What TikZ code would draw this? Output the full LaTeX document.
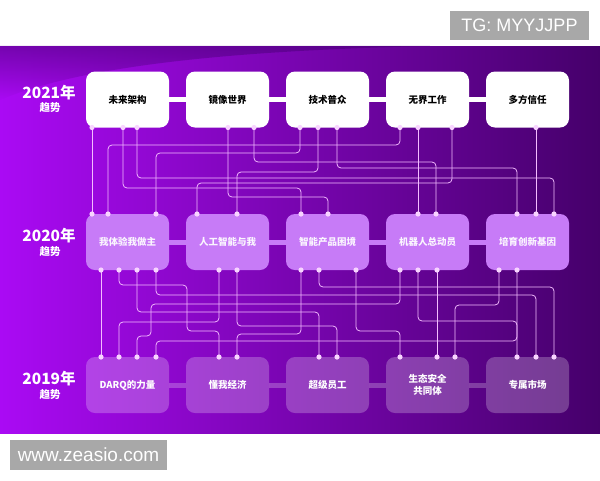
\documentclass[tikz,border=0pt]{standalone}
\usepackage{fontspec}
\setmainfont{Liberation Sans}
\newfontfamily\cjk{Noto Sans CJK SC}
\usetikzlibrary{fadings}
\definecolor{bgL}{HTML}{AA0AF4}
\definecolor{bgM}{HTML}{8A00E4}
\definecolor{bgR}{HTML}{45006A}
\definecolor{bgTop}{HTML}{4A0078}
\definecolor{midc}{HTML}{C77BF7}
\definecolor{wirec}{HTML}{F4BCFF}
\definecolor{dotc}{HTML}{F8D4FF}
\definecolor{markc}{HTML}{A8A8A8}
\newcommand{\link}[3]{\draw[wire] (#1) -- (#1 |- 0,#3) -- (#2 |- 0,#3) -- (#2);}
\begin{document}
\begin{tikzpicture}[x=1pt,y=-1pt,
  wire/.style={draw=wirec,line width=0.75pt,rounded corners=4pt},
  topbox/.style={fill=white,rounded corners=9pt,minimum width=83pt,minimum height=56pt,
    font=\cjk\bfseries\fontsize{9.5}{12}\selectfont,text=black,align=center},
  midbox/.style={topbox,fill=midc,text=white!92!midc},
  lowbox/.style={topbox,fill=white,fill opacity=0.24,text opacity=1,text=white},
  yearlab/.style={text=white,font=\cjk\bfseries\fontsize{15.5}{16}\selectfont,inner sep=0pt},
  sublab/.style={text=white,font=\cjk\bfseries\fontsize{10.5}{11}\selectfont,inner sep=0pt},
  markbox/.style={fill=markc,text=white,inner sep=0pt}]
\useasboundingbox (0,0) rectangle (600,480);
\fill[white] (0,0) rectangle (600,480);
\shade[left color=bgL,middle color=bgM,right color=bgR] (0,46) rectangle (600,433);
\fill[bgTop,opacity=0.55,path fading=south] (0,46) -- (430,46) .. controls (260,50) and (90,62) .. (0,100) -- cycle;

\node[markbox,minimum width=139pt,minimum height=29pt,font=\fontsize{18}{19}\selectfont] (tg) at (519.5,25.5) {TG: MYYJJPP};
\node[markbox,minimum width=157pt,minimum height=30pt,font=\fontsize{19}{20}\selectfont] (web) at (88.5,455) {www.zeasio.com};

\node[yearlab] (y21) at (49,93) {2021年};
\node[sublab] (s21) at (50,108) {趋势};
\node[yearlab] (y20) at (49,236) {2020年};
\node[sublab] (s20) at (50,252) {趋势};
\node[yearlab] (y19) at (49,379) {2019年};
\node[sublab] (s19) at (50,395) {趋势};

\foreach \x in {92,123,137,228,254,300,318,337,400,418,452,536} \coordinate (u\x) at (\x,127.5);
\foreach \x in {92,108,156,197,237,301,328,418,436,517,536,554} \coordinate (v\x) at (\x,214);
\foreach \x in {101,119,137,156,219,237,301,319,356,400,418,437,499,517} \coordinate (w\x) at (\x,270);
\foreach \x in {101,119,137,156,219,237,319,337,400,437,455,517,536,554} \coordinate (z\x) at (\x,357);

\draw[wire] (u92) -- (v92);
\draw[wire] (u418) -- (v418);
\draw[wire] (u536) -- (v536);
\link{u400}{v108}{145}
\link{u300}{v156}{153}
\link{u254}{v436}{162}
\link{u337}{v517}{168}
\link{u318}{v237}{172}
\link{u137}{v554}{178}
\link{u452}{v197}{183}
\link{u123}{v301}{188}
\link{u228}{v328}{197}

\draw[wire] (w101) -- (z101);
\draw[wire] (w437) -- (z437);
\draw[wire] (w119) -- (119,285) -- (187,285) -- (187,331) -- (219,331) -- (z219);
\draw[wire] (w400) -- (400,304) -- (151,304) -- (151,336) -- (137,336) -- (z137);
\link{w137}{z319}{312}
\link{w156}{z536}{295}
\link{w219}{z119}{322}
\link{w237}{z337}{326}
\link{w301}{z237}{334}
\link{w319}{z554}{287}
\link{w356}{z400}{331}
\link{w418}{z517}{321}
\link{w499}{z455}{305}
\link{w517}{z156}{341}

\node[topbox] (t1) at (127.5,99.5) {未来架构};
\node[topbox] (t2) at (227.5,99.5) {镜像世界};
\node[topbox] (t3) at (327.5,99.5) {技术普众};
\node[topbox] (t4) at (427.5,99.5) {无界工作};
\node[topbox] (t5) at (527.5,99.5) {多方信任};
\node[midbox] (m1) at (127.5,242) {我体验我做主};
\node[midbox] (m2) at (227.5,242) {人工智能与我};
\node[midbox] (m3) at (327.5,242) {智能产品困境};
\node[midbox] (m4) at (427.5,242) {机器人总动员};
\node[midbox] (m5) at (527.5,242) {培育创新基因};
\node[lowbox] (l1) at (127.5,385) {DARQ的力量};
\node[lowbox] (l2) at (227.5,385) {懂我经济};
\node[lowbox] (l3) at (327.5,385) {超级员工};
\node[lowbox] (l4) at (427.5,385) {生态安全\\共同体};
\node[lowbox] (l5) at (527.5,385) {专属市场};

\draw[white,line width=5pt] (t1.east) -- (t2.west) (t2.east) -- (t3.west) (t3.east) -- (t4.west) (t4.east) -- (t5.west);
\draw[midc,line width=5pt] (m1.east) -- (m2.west) (m2.east) -- (m3.west) (m3.east) -- (m4.west) (m4.east) -- (m5.west);
\draw[white,opacity=0.24,line width=5pt] (l1.east) -- (l2.west) (l2.east) -- (l3.west) (l3.east) -- (l4.west) (l4.east) -- (l5.west);

\foreach \p in {u92,u123,u137,u228,u254,u300,u318,u337,u400,u418,u452,u536,
  v92,v108,v156,v197,v237,v301,v328,v418,v436,v517,v536,v554,
  w101,w119,w137,w156,w219,w237,w301,w319,w356,w400,w418,w437,w499,w517,
  z101,z119,z137,z156,z219,z237,z319,z337,z400,z437,z455,z517,z536,z554}
  \fill[dotc] (\p) circle (2.6pt);
\end{tikzpicture}
\end{document}
